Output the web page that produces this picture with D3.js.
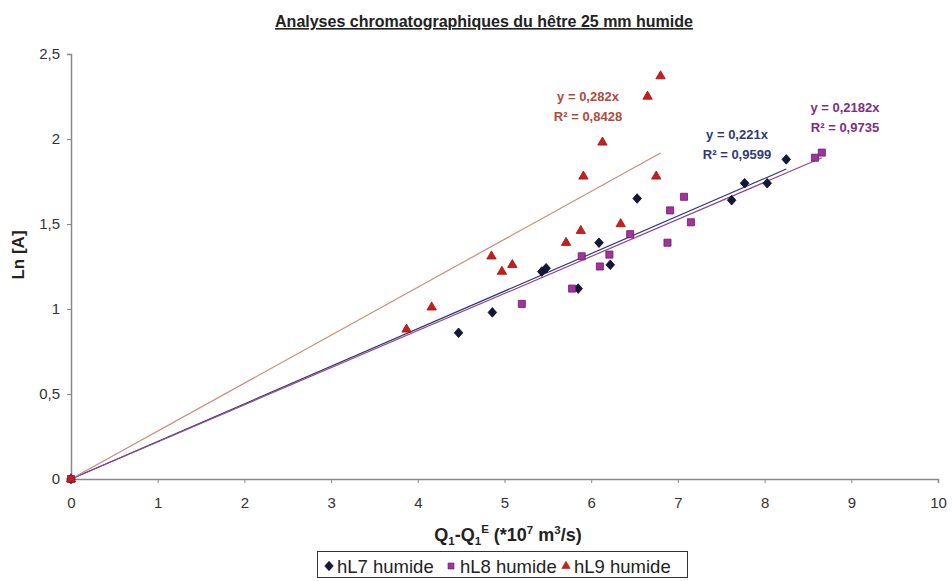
<!DOCTYPE html>
<html><head><meta charset="utf-8">
<script src="https://cdn.jsdelivr.net/npm/d3@7"></script>
<style>
body{margin:0;background:#fff;}
text{font-family:"Liberation Sans",Arial,sans-serif;}
</style></head>
<body><svg id="c" width="952" height="581"></svg>
<script>
const hL7x = [0, 4.47, 4.86, 5.43, 5.48, 5.85, 6.09, 6.22, 6.53, 7.62, 7.77, 8.03, 8.25];
const hL7y = [0, 0.86, 0.98, 1.22, 1.24, 1.12, 1.39, 1.26, 1.65, 1.64, 1.74, 1.74, 1.88];
const hL8x = [0, 5.20, 5.78, 5.89, 6.10, 6.21, 6.45, 6.88, 6.91, 7.07, 7.15, 8.58, 8.66];
const hL8y = [0, 1.03, 1.12, 1.31, 1.25, 1.32, 1.44, 1.39, 1.58, 1.66, 1.51, 1.89, 1.92];
const hL9x = [0, 3.87, 4.16, 4.85, 4.97, 5.09, 5.71, 5.88, 6.34, 5.91, 6.13, 6.75, 6.65, 6.80];
const hL9y = [0, 0.88, 1.01, 1.31, 1.22, 1.26, 1.39, 1.46, 1.50, 1.78, 1.98, 1.78, 2.25, 2.37];
const seriesNames = ["hL7 humide", "hL8 humide", "hL9 humide"];
const slopes = [0.221, 0.2182, 0.282];
const trendEnds = [8.25, 8.66, 6.80];
const eqLabels = [["y = 0,221x", "R² = 0,9599"], ["y = 0,2182x", "R² = 0,9735"], ["y = 0,282x", "R² = 0,8428"]];
const xTicks = [0,1,2,3,4,5,6,7,8,9,10];
const yTicks = [0,0.5,1,1.5,2,2.5];
const yTickLabels = ["0","0,5","1","1,5","2","2,5"];

const svg = d3.select("#c");
const x = d3.scaleLinear().domain([0,10]).range([71,938]);
const y = d3.scaleLinear().domain([0,2.5]).range([479,54]);

const markerFill = ["#14163a","#a2339c","#cc1c1c"];
const markerStroke = ["#0a0a20","#6a1a66","#a01010"];
const lineCol = ["#2e3a78","#8b4a8e","#c98c7c"];
const textCol = ["#2e3a78","#7c2f7e","#b5483c"];

// axes
const gx = svg.append("g").attr("transform","translate(0,479)")
  .call(d3.axisBottom(x).tickValues(xTicks).tickSize(4).tickPadding(14).tickFormat(d=>String(d)));
const gy = svg.append("g").attr("transform","translate(71,0)")
  .call(d3.axisLeft(y).tickValues(yTicks).tickSize(4).tickPadding(7).tickFormat((d,i)=>yTickLabels[i]));
[gx,gy].forEach(g=>{
  g.select(".domain").attr("stroke","#888").attr("stroke-width",1.5);
  g.selectAll(".tick line").attr("stroke","#888");
  g.selectAll(".tick text").attr("fill","#333").style("font-size","15px");
});

// trend lines
slopes.forEach((s,i)=>{
  svg.append("line").attr("x1",x(0)).attr("y1",y(0)).attr("x2",x(trendEnds[i])).attr("y2",y(s*trendEnds[i]))
    .attr("stroke",lineCol[i]).attr("stroke-width",1.2);
});

// markers
const diamond = {draw(ctx,size){const w=4.3,h=4.8;ctx.moveTo(0,-h);ctx.lineTo(w,0);ctx.lineTo(0,h);ctx.lineTo(-w,0);ctx.closePath();}};
const data = [[hL7x,hL7y],[hL8x,hL8y],[hL9x,hL9y]];
const syms = [diamond, d3.symbolSquare, d3.symbolTriangle];
const sizes = [40, 50, 38];
data.forEach(([xs,ys],i)=>{
  svg.append("g").selectAll("path").data(xs.map((v,j)=>[v,ys[j]])).join("path")
    .attr("transform",d=>`translate(${x(d[0])},${y(d[1])})`)
    .attr("d",d3.symbol().type(syms[i]).size(sizes[i]))
    .attr("fill",markerFill[i]).attr("stroke",markerStroke[i]).attr("stroke-width",0.8);
});

// equation labels
const eqPos = [[737,139],[845,112],[588,101]];
eqLabels.forEach((lab,i)=>{
  const t = svg.append("text").attr("x",eqPos[i][0]).attr("y",eqPos[i][1]).attr("text-anchor","middle")
    .attr("fill",textCol[i]).style("font-size","13px").style("font-weight","bold");
  t.append("tspan").attr("x",eqPos[i][0]).attr("dy",0).text(lab[0]);
  t.append("tspan").attr("x",eqPos[i][0]).attr("dy",19.5).text(lab[1]);
});

// title
svg.append("text").attr("x",484).attr("y",27).attr("text-anchor","middle")
  .style("font-size","16px").style("font-weight","bold").attr("fill","#222")
  .style("text-decoration","underline").text("Analyses chromatographiques du hêtre 25 mm humide");

// y label
svg.append("text").attr("transform","translate(24,255) rotate(-90)").attr("text-anchor","middle")
  .style("font-size","17px").style("font-weight","bold").attr("fill","#222").text("Ln [A]");

// x label
const xl = svg.append("text").attr("x",508).attr("y",541).attr("text-anchor","middle")
  .style("font-size","18px").style("font-weight","bold").attr("fill","#222");
xl.append("tspan").text("Q");
xl.append("tspan").attr("dy",4).style("font-size","11.5px").text("1");
xl.append("tspan").attr("dy",-4).text("-Q");
xl.append("tspan").attr("dy",4).style("font-size","11.5px").text("1");
xl.append("tspan").attr("dy",-12).style("font-size","11.5px").text("E");
xl.append("tspan").attr("dy",8).text(" (*10");
xl.append("tspan").attr("dy",-7).style("font-size","11.5px").text("7");
xl.append("tspan").attr("dy",7).text(" m");
xl.append("tspan").attr("dy",-7).style("font-size","11.5px").text("3");
xl.append("tspan").attr("dy",7).text("/s)");

// legend
const lg = svg.append("g");
lg.append("rect").attr("x",317.5).attr("y",551.5).attr("width",370).attr("height",26)
  .attr("fill","#fff").attr("stroke","#333").attr("stroke-width",1);
const legX = [329, 451, 566];
const legT = [337, 460, 574];
seriesNames.forEach((n,i)=>{
  lg.append("path").attr("transform",`translate(${legX[i]},${566})`)
    .attr("d",d3.symbol().type(syms[i]).size(i==1?36:30))
    .attr("fill",markerFill[i]).attr("stroke",markerStroke[i]).attr("stroke-width",0.6);
  lg.append("text").attr("x",legT[i]).attr("y",572.5).style("font-size","18.5px").attr("fill","#222").text(n);
});
</script></body></html>
